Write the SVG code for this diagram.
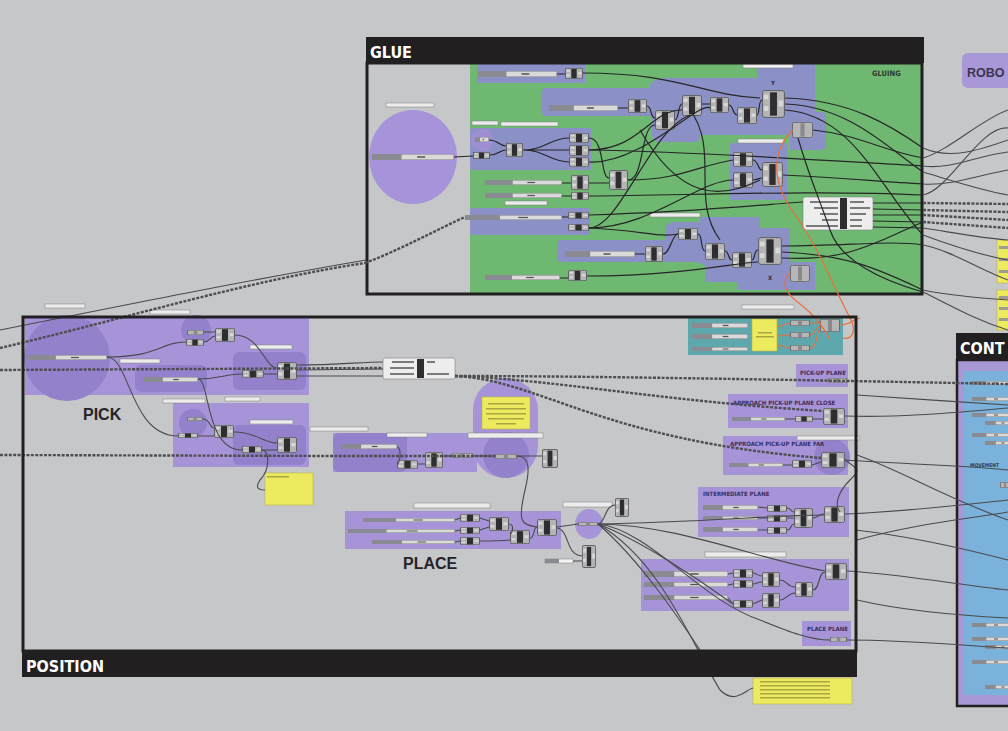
<svg xmlns="http://www.w3.org/2000/svg" width="1008" height="731" viewBox="0 0 1008 731">
<style>
.hdr{fill:#221f20}
.ht{font-family:"DejaVu Sans Condensed","Liberation Sans Narrow","Liberation Sans",sans-serif;font-weight:bold;fill:#ffffff;font-size:16px}
.frm{fill:none;stroke:#221f20;stroke-width:3}
.gb{fill:#8b90c7}
.lv{fill:#a794d8}
.lvd{fill:#9481cc}
.tl{fill:#5ea8ad}
.yl{fill:#eeea60;stroke:#b8b440;stroke-width:.6}
.lb{fill:#ececec;stroke:#7c7c7c;stroke-width:.5}
.w{fill:none;stroke:#262626;stroke-width:1.2}
.wg{fill:none;stroke:#4a4a4c;stroke-width:1.1}
.wd{fill:none;stroke:#4e4e50;stroke-width:2.4;stroke-dasharray:3 1.4}
.wo{fill:none;stroke:#ea6f3c;stroke-width:1.2}
.big{font-family:"Liberation Sans",Arial,sans-serif;font-weight:bold;fill:#262328;font-size:17px}
.gt{font-family:"Liberation Sans Narrow","DejaVu Sans Condensed","Liberation Sans",sans-serif;font-weight:bold;fill:#3a2f63;font-size:7px}
</style>
<defs>
<symbol id="cp" viewBox="0 0 20 24" preserveAspectRatio="none">
<rect x="0.5" y="0.5" width="19" height="23" rx="2" fill="#b4b4b6" stroke="#606062" stroke-width="1" vector-effect="non-scaling-stroke"/>
<rect x="7" y="2" width="6" height="20" fill="#2e2e30"/>
<rect x="1.5" y="4" width="4" height="4" fill="#d8d8d8"/>
<rect x="1.5" y="14" width="4" height="4" fill="#d8d8d8"/>
<rect x="14.5" y="9" width="4" height="5" fill="#d8d8d8"/>
</symbol>
<symbol id="cl" viewBox="0 0 20 24" preserveAspectRatio="none">
<rect x="0.5" y="0.5" width="19" height="23" rx="2" fill="#b6b6b8" stroke="#6a6a6c" stroke-width="1" vector-effect="non-scaling-stroke"/>
<rect x="8" y="2" width="4" height="20" fill="#8a8a8c"/>
</symbol>
<symbol id="sl" viewBox="0 0 100 8" preserveAspectRatio="none">
<rect x="0" y="0" width="100" height="8" fill="#dadada" stroke="#7a7a7a" stroke-width="1" vector-effect="non-scaling-stroke"/>
<rect x="0" y="0" width="36" height="8" fill="#8a8b92"/>
<rect x="55" y="3" width="10" height="2" fill="#555"/>
</symbol>
</defs>

<rect width="1008" height="731" fill="#c6c7c9"/>

<!-- ROBOT frame (partly outside view) -->
<g id="robot">
<rect x="962" y="53" width="60" height="35" rx="6" fill="#a898d8"/>
<text x="967" y="77" class="big" style="font-size:12.5px;fill:#3b3650">ROBO</text>
</g>

<!-- GLUE frame -->
<g id="glue">
<rect x="366" y="37" width="558" height="26" class="hdr"/>
<text x="370" y="58" class="ht">GLUE</text>
<rect x="470" y="64" width="452" height="230" fill="#6fb872"/>
<ellipse cx="413" cy="157" rx="44" ry="47" fill="#a793d9"/>
<rect x="386" y="103" width="48" height="4" class="lb"/>
<use href="#sl" x="372" y="154" width="82" height="6"/>

<!-- blue-violet groups -->
<rect x="477" y="64" width="108" height="19" class="gb"/>
<path class="gb" d="M542,92 Q542,88 546,88 L650,88 L650,84 Q655,78 665,78 L757,78 L757,66 Q757,63 762,63 L815,63 L815,112 L822,112 Q826,112 826,118 L826,145 Q826,150 820,150 L790,150 L790,135 L700,135 L700,138 Q700,142 694,142 L660,142 Q652,142 652,134 L652,116 L546,116 Q542,116 542,112 Z"/>
<rect x="470" y="128" width="121" height="42" rx="2" class="gb"/>
<rect x="470" y="208" width="120" height="27" rx="2" class="gb"/>
<path class="gb" d="M557,244 Q557,240 562,240 L665,240 L665,228 Q668,222 675,222 L700,222 L700,217 L760,217 L760,228 L790,228 L790,262 L815,262 L815,290 L738,290 L738,282 L705,282 L705,266 Q700,262 694,262 L562,262 Q557,262 557,258 Z"/>
<rect x="730" y="143" width="57" height="57" rx="2" class="gb"/>
<circle cx="482" cy="140" r="11" fill="#a08ed5"/>

<text x="872" y="76" class="gt" style="fill:#2d3a2d;font-size:7.5px">GLUING</text>
<text x="771" y="85" class="gt" style="font-size:6px;fill:#2d2d3a">Y</text>
<text x="768" y="280" class="gt" style="font-size:6px;fill:#2d2d3a">X</text>

<!-- labels -->
<rect x="743" y="64" width="50" height="4" class="lb"/>
<rect x="472" y="121" width="26" height="4" class="lb"/>
<rect x="501" y="122" width="57" height="4" class="lb"/>
<rect x="505" y="201" width="42" height="4" class="lb"/>
<rect x="650" y="213" width="50" height="4" class="lb"/>
<rect x="738" y="139" width="46" height="4" class="lb"/>

<!-- sliders -->
<use href="#sl" x="478" y="71" width="79" height="6"/>
<use href="#sl" x="549" y="105" width="69" height="6"/>
<use href="#sl" x="475" y="137" width="14" height="5"/>
<use href="#sl" x="485" y="180" width="77" height="5"/>
<use href="#sl" x="485" y="193" width="77" height="5"/>
<use href="#sl" x="465" y="215" width="97" height="5"/>
<use href="#sl" x="565" y="251" width="70" height="6"/>
<use href="#sl" x="485" y="275" width="75" height="5"/>

<!-- components -->
<use href="#cp" x="565" y="68" width="18" height="11"/>
<use href="#cp" x="628" y="99" width="19" height="14"/>
<use href="#cp" x="655" y="110" width="20" height="20"/>
<use href="#cp" x="682" y="95" width="20" height="21"/>
<use href="#cp" x="710" y="97" width="19" height="16"/>
<use href="#cp" x="737" y="107" width="20" height="17"/>
<use href="#cp" x="762" y="90" width="23" height="28"/>
<use href="#cl" x="792" y="122" width="21" height="16"/>
<use href="#cp" x="473" y="152" width="17" height="7"/>
<use href="#cp" x="506" y="143" width="17" height="14"/>
<use href="#cp" x="569" y="133" width="20" height="10"/>
<use href="#cp" x="569" y="145" width="20" height="11"/>
<use href="#cp" x="569" y="157" width="20" height="10"/>
<use href="#cp" x="571" y="175" width="18" height="15"/>
<use href="#cp" x="571" y="192" width="18" height="8"/>
<use href="#cp" x="609" y="170" width="19" height="20"/>
<use href="#cp" x="568" y="212" width="21" height="7"/>
<use href="#cp" x="568" y="224" width="21" height="7"/>
<use href="#cp" x="733" y="152" width="20" height="15"/>
<use href="#cp" x="733" y="172" width="20" height="16"/>
<use href="#cp" x="762" y="162" width="21" height="25"/>
<use href="#cp" x="645" y="246" width="18" height="16"/>
<use href="#cp" x="678" y="228" width="20" height="12"/>
<use href="#cp" x="705" y="243" width="20" height="17"/>
<use href="#cp" x="732" y="252" width="20" height="16"/>
<use href="#cp" x="758" y="237" width="24" height="28"/>
<use href="#cl" x="790" y="265" width="20" height="17"/>
<use href="#cp" x="568" y="270" width="19" height="11"/>
<!-- parameter panel -->
<g>
<rect x="803" y="197" width="70" height="33" rx="2" fill="#ededed" stroke="#808080" stroke-width=".6"/>
<rect x="840" y="198" width="7" height="31" fill="#2e2e30"/>
<rect x="810" y="201" width="28" height="2" fill="#7a7a7a"/>
<rect x="814" y="207" width="24" height="2" fill="#7a7a7a"/>
<rect x="820" y="213" width="18" height="2" fill="#7a7a7a"/>
<rect x="822" y="219" width="16" height="2" fill="#7a7a7a"/>
<rect x="806" y="225" width="32" height="2" fill="#7a7a7a"/>
<rect x="850" y="201" width="14" height="2" fill="#7a7a7a"/>
<rect x="850" y="207" width="20" height="2" fill="#7a7a7a"/>
<rect x="850" y="213" width="16" height="2" fill="#7a7a7a"/>
<rect x="850" y="219" width="12" height="2" fill="#7a7a7a"/>
<rect x="850" y="225" width="12" height="2" fill="#7a7a7a"/>
</g>
<rect x="367" y="63" width="555" height="231" class="frm"/>
</g>

<!-- POSITION frame -->
<g id="position">
<!-- PICK groups -->
<rect x="25" y="318" width="284" height="77" class="lv"/>
<circle cx="67" cy="358" r="43" class="lvd"/>
<rect x="135" y="365" width="72" height="27" rx="6" class="lvd"/>
<rect x="233" y="352" width="73" height="38" rx="6" class="lvd"/>
<circle cx="196" cy="330" r="15" class="lvd"/>
<rect x="173" y="403" width="136" height="64" class="lv"/>
<rect x="233" y="425" width="73" height="40" rx="6" class="lvd"/>
<circle cx="193" cy="423" r="14" class="lvd"/>
<text x="83" y="420" class="big" style="font-size:16px">PICK</text>
<rect x="120" y="359" width="40" height="4" class="lb"/>
<rect x="250" y="345" width="42" height="4" class="lb"/>
<rect x="163" y="399" width="42" height="4" class="lb"/>
<rect x="225" y="397" width="35" height="4" class="lb"/>
<rect x="250" y="420" width="43" height="4" class="lb"/>
<rect x="310" y="427" width="58" height="4" class="lb"/>
<rect x="45" y="304" width="40" height="4" class="lb"/>
<rect x="150" y="310" width="40" height="4" class="lb"/>
<use href="#sl" x="27" y="355" width="80" height="5"/>
<use href="#sl" x="143" y="377" width="55" height="5"/>
<use href="#cl" x="187" y="330" width="17" height="5"/>
<use href="#cp" x="186" y="339" width="18" height="7"/>
<use href="#cp" x="215" y="328" width="20" height="14"/>
<use href="#cp" x="242" y="370" width="22" height="8"/>
<use href="#cp" x="277" y="362" width="20" height="18"/>
<use href="#cl" x="187" y="417" width="16" height="4"/>
<use href="#cp" x="178" y="433" width="20" height="5"/>
<use href="#cp" x="214" y="425" width="20" height="13"/>
<use href="#cp" x="242" y="446" width="20" height="7"/>
<use href="#cp" x="277" y="437" width="20" height="16"/>
<rect x="265" y="473" width="48" height="32" class="yl"/>
<rect x="267" y="476" width="22" height="1.5" fill="#a8a640"/>

<!-- deconstruct panel -->
<g>
<rect x="383" y="358" width="72" height="21" rx="2" fill="#ededed" stroke="#808080" stroke-width=".6"/>
<rect x="417" y="359" width="7" height="19" fill="#2e2e30"/>
<rect x="392" y="361" width="22" height="2" fill="#7a7a7a"/>
<rect x="390" y="367" width="24" height="2" fill="#7a7a7a"/>
<rect x="390" y="373" width="24" height="2" fill="#7a7a7a"/>
<rect x="427" y="361" width="8" height="2" fill="#7a7a7a"/>
<rect x="427" y="373" width="22" height="2" fill="#7a7a7a"/>
</g>

<!-- PLACE groups -->
<rect x="333" y="433" width="144" height="39" class="lv"/>
<rect x="333" y="433" width="74" height="39" rx="6" class="lvd"/>
<rect x="387" y="433" width="40" height="4" class="lb"/>
<use href="#sl" x="341" y="444" width="56" height="5"/>
<use href="#cp" x="397" y="460" width="21" height="9"/>
<use href="#cp" x="425" y="452" width="18" height="16"/>
<use href="#cl" x="452" y="453" width="21" height="5"/>
<rect x="473" y="378" width="65" height="100" rx="32" class="lv"/>
<circle cx="506" cy="455" r="23" class="lvd"/>
<rect x="482" y="397" width="48" height="32" class="yl"/>
<rect x="488" y="403" width="36" height="1.5" fill="#a8a640"/>
<rect x="486" y="408" width="40" height="1.5" fill="#a8a640"/>
<rect x="486" y="413" width="40" height="1.5" fill="#a8a640"/>
<rect x="488" y="418" width="36" height="1.5" fill="#a8a640"/>
<rect x="496" y="423" width="20" height="1.5" fill="#a8a640"/>
<rect x="468" y="433" width="75" height="5" class="lb"/>
<use href="#cl" x="495" y="454" width="22" height="5"/>
<use href="#cp" x="542" y="449" width="16" height="19"/>

<rect x="345" y="511" width="216" height="38" class="lv"/>
<rect x="414" y="503" width="76" height="5" class="lb"/>
<use href="#sl" x="363" y="518" width="92" height="4"/>
<use href="#sl" x="348" y="529" width="107" height="4"/>
<use href="#sl" x="372" y="540" width="83" height="4"/>
<use href="#cp" x="460" y="514" width="20" height="8"/>
<use href="#cp" x="460" y="527" width="20" height="7"/>
<use href="#cp" x="460" y="537" width="20" height="8"/>
<use href="#cp" x="489" y="517" width="20" height="14"/>
<use href="#cp" x="510" y="530" width="20" height="14"/>
<use href="#cp" x="537" y="519" width="20" height="17"/>
<text x="403" y="569" class="big" style="font-size:16px">PLACE</text>
<ellipse cx="589" cy="524" rx="14" ry="15" class="lv"/>
<use href="#cl" x="578" y="522" width="20" height="4"/>
<rect x="563" y="502" width="49" height="5" class="lb"/>
<use href="#cp" x="615" y="498" width="14" height="19"/>
<use href="#cp" x="582" y="545" width="14" height="23"/>
<rect x="545" y="559" width="28" height="4" fill="#f4f4f4" stroke="#7a7a7a" stroke-width=".5"/>
<rect x="545" y="559" width="14" height="4" fill="#8a8b92"/>

<!-- teal group -->
<rect x="688" y="317" width="155" height="38" class="tl"/>
<rect x="742" y="305" width="52" height="4" class="lb"/>
<use href="#sl" x="692" y="323" width="56" height="5"/>
<use href="#sl" x="692" y="334" width="56" height="5"/>
<use href="#sl" x="692" y="347" width="56" height="4"/>
<rect x="752" y="319" width="25" height="32" class="yl"/>
<rect x="758" y="332" width="14" height="1.5" fill="#a8a640"/>
<rect x="756" y="336" width="18" height="1.5" fill="#a8a640"/>
<use href="#cl" x="790" y="320" width="20" height="6"/>
<use href="#cl" x="790" y="332" width="20" height="6"/>
<use href="#cl" x="790" y="345" width="20" height="6"/>
<use href="#cl" x="820" y="319" width="20" height="13"/>

<!-- plane groups -->
<rect x="796" y="364" width="52" height="23" class="lv"/>
<text x="800" y="375" class="gt" style="font-size:6px">PICK-UP PLANE</text>
<use href="#cl" x="828" y="378" width="19" height="5"/>
<rect x="728" y="394" width="120" height="34" class="lv"/>
<text x="733" y="405" class="gt" style="font-size:6px">APPROACH PICK-UP PLANE CLOSE</text>
<use href="#sl" x="732" y="417" width="53" height="4"/>
<use href="#cp" x="795" y="416" width="18" height="6"/>
<use href="#cp" x="823" y="408" width="22" height="17"/>
<rect x="723" y="436" width="125" height="39" class="lv"/>
<circle cx="832" cy="457" r="18" class="lvd"/>
<text x="730" y="446" class="gt" style="font-size:6px">APPROACH PICK-UP PLANE FAR</text>
<rect x="797" y="436" width="62" height="4" class="lb"/>
<use href="#sl" x="729" y="463" width="54" height="4"/>
<use href="#cp" x="792" y="460" width="20" height="8"/>
<use href="#cp" x="821" y="452" width="24" height="16"/>
<rect x="698" y="487" width="151" height="50" class="lv"/>
<text x="703" y="496" class="gt" style="font-size:6px">INTERMEDIATE PLANE</text>
<use href="#sl" x="703" y="505" width="55" height="5"/>
<use href="#sl" x="703" y="516" width="55" height="4"/>
<use href="#sl" x="703" y="527" width="55" height="5"/>
<use href="#cp" x="767" y="505" width="20" height="7"/>
<use href="#cp" x="767" y="515" width="20" height="7"/>
<use href="#cp" x="767" y="527" width="20" height="7"/>
<use href="#cp" x="794" y="508" width="19" height="20"/>
<use href="#cp" x="824" y="506" width="21" height="17"/>
<rect x="641" y="559" width="208" height="52" class="lv"/>
<rect x="705" y="552" width="81" height="5" class="lb"/>
<use href="#sl" x="644" y="571" width="84" height="6"/>
<use href="#sl" x="644" y="582" width="84" height="5"/>
<use href="#sl" x="644" y="595" width="84" height="5"/>
<use href="#cp" x="733" y="569" width="20" height="9"/>
<use href="#cp" x="733" y="580" width="20" height="8"/>
<use href="#cp" x="733" y="600" width="20" height="8"/>
<use href="#cp" x="762" y="572" width="18" height="15"/>
<use href="#cp" x="762" y="593" width="18" height="15"/>
<use href="#cp" x="795" y="582" width="18" height="15"/>
<use href="#cp" x="825" y="563" width="22" height="17"/>
<rect x="802" y="621" width="49" height="25" class="lv"/>
<text x="807" y="631" class="gt" style="font-size:6px">PLACE PLANE</text>
<use href="#cl" x="830" y="637" width="17" height="5"/>
</g>

<!-- CONTROL frame (partly outside view) -->
<g id="control">
<rect x="956" y="333" width="60" height="27" class="hdr"/>
<text x="960" y="354" class="ht">CONT</text>
<rect x="957" y="360" width="60" height="346" fill="#a898d6" stroke="#221f20" stroke-width="2.5"/>
<rect x="964" y="371" width="50" height="324" fill="#7ab2dc"/>
<use href="#sl" x="972" y="381" width="40" height="4"/>
<use href="#sl" x="972" y="397" width="40" height="4"/>
<use href="#sl" x="972" y="413" width="40" height="4"/>
<use href="#sl" x="985" y="421" width="30" height="4"/>
<use href="#sl" x="972" y="433" width="40" height="4"/>
<use href="#sl" x="985" y="441" width="30" height="4"/>
<text x="970" y="467" class="gt" style="font-size:5px;fill:#2f3a5a">MOVEMENT</text>
<use href="#cl" x="1000" y="482" width="10" height="6"/>
<use href="#sl" x="972" y="623" width="40" height="4"/>
<use href="#sl" x="972" y="637" width="40" height="4"/>
<use href="#sl" x="985" y="645" width="30" height="4"/>
<use href="#sl" x="972" y="660" width="40" height="4"/>
<use href="#sl" x="985" y="685" width="30" height="4"/>
</g>

<!-- output panels -->
<g id="panels">
<rect x="997" y="240" width="16" height="43" class="yl"/>
<rect x="999" y="246" width="10" height="3" fill="#9c9c90"/>
<rect x="999" y="258" width="10" height="3" fill="#9c9c90"/>
<rect x="999" y="270" width="10" height="3" fill="#9c9c90"/>
<rect x="997" y="290" width="16" height="40" class="yl"/>
<rect x="999" y="296" width="10" height="3" fill="#9c9c90"/>
<rect x="999" y="307" width="10" height="3" fill="#9c9c90"/>
<rect x="999" y="318" width="10" height="3" fill="#9c9c90"/>
<rect x="753" y="678" width="99" height="26" class="yl"/>
<rect x="760" y="681" width="70" height="1.5" fill="#a8a640"/>
<rect x="760" y="685" width="70" height="1.5" fill="#a8a640"/>
<rect x="760" y="689" width="70" height="1.5" fill="#a8a640"/>
<rect x="760" y="693" width="70" height="1.5" fill="#a8a640"/>
<rect x="760" y="697" width="70" height="1.5" fill="#a8a640"/>
</g>

<!-- connectors -->
<g id="connectors">
<!-- glue internal wires -->
<path class="w" d="M583,73 C680,73 700,95 760,98"/>
<path class="w" d="M557,74 L565,74 M618,108 L628,108 M647,106 C652,106 650,118 655,118 M675,120 C679,120 678,104 682,104 M702,104 L710,104 M729,105 C733,105 733,115 737,115 M757,115 C760,115 758,100 762,100"/>
<path class="w" d="M785,98 C850,100 890,125 923,148"/>
<path class="w" d="M785,104 C850,106 890,150 923,172"/>
<path class="w" d="M785,110 C855,115 880,190 923,235"/>
<path class="w" d="M813,130 C860,135 880,150 923,158"/>
<path class="w" d="M454,157 L473,156 M490,155 C498,155 500,150 506,150 M489,140 C498,140 500,146 506,146"/>
<path class="w" d="M523,150 C545,150 550,138 569,138 M523,150 L569,150 M523,150 C545,150 550,162 569,162"/>
<path class="w" d="M589,138 C605,138 600,178 609,178"/>
<path class="w" d="M589,150 C640,150 650,110 682,110"/>
<path class="w" d="M589,150 C700,152 820,160 923,166"/>
<path class="w" d="M589,162 C640,165 700,100 710,108"/>
<path class="w" d="M562,183 L571,183 M589,183 L609,183"/>
<path class="w" d="M562,196 L571,196 M589,196 C700,195 820,190 923,195"/>
<path class="w" d="M628,180 C645,180 640,125 655,125"/>
<path class="w" d="M628,180 C680,180 700,165 733,160"/>
<path class="w" d="M589,228 C650,228 700,180 733,180"/>
<path class="w" d="M589,228 C640,230 660,238 678,234"/>
<path class="w" d="M589,228 C620,228 650,130 690,115"/>
<path class="w" d="M562,217 L568,217 M589,215 C700,212 780,203 803,202"/>
<path class="w" d="M635,254 L645,254 M663,254 C670,254 672,234 678,234 M698,234 C703,234 700,251 705,251 M725,251 C729,251 728,260 732,260 M752,260 C755,260 754,250 758,250"/>
<path class="w" d="M782,246 C850,246 890,240 923,245"/>
<path class="w" d="M782,252 C850,255 880,270 923,290"/>
<path class="w" d="M782,258 C850,262 880,240 923,222"/>
<path class="w" d="M560,278 L568,278 M587,276 C680,276 740,262 758,262"/>
<path class="w" d="M753,160 C758,160 758,170 762,170 M753,180 C758,180 758,178 762,178"/>
<path class="w" d="M783,175 C850,178 880,182 923,184"/>
<path class="w" d="M690,110 C720,150 690,200 720,240"/>
<path class="w" d="M640,130 C680,200 720,200 760,180"/>
<path class="w" d="M873,203 L923,203 M873,209 L923,210 M873,215 L923,215 M873,221 L923,222 M873,227 L923,228"/>
<path class="w" d="M798,138 C810,180 820,200 830,230 C840,260 880,280 923,292"/>
<!-- wires leaving glue to the right -->
<path class="wg" d="M923,148 C950,160 980,150 1008,140"/>
<path class="wg" d="M923,166 C950,170 980,155 1008,152"/>
<path class="wg" d="M923,172 C950,180 980,190 1008,195"/>
<path class="wg" d="M923,158 C950,150 980,120 1008,110"/>
<path class="wg" d="M923,184 C950,186 980,175 1008,170"/>
<path class="wd" d="M923,203 L1008,204 M923,210 L1008,212 M923,215 L1008,220 M923,222 L1008,228"/>
<path class="wg" d="M923,195 C950,190 980,125 1008,128"/>
<path class="wg" d="M923,235 C950,245 980,255 1008,260"/>
<path class="wg" d="M923,245 C950,250 980,270 1008,280"/>
<path class="wg" d="M923,228 C950,232 980,238 1008,240"/>
<path class="wg" d="M923,292 C950,305 975,320 1008,330"/>
<path class="wg" d="M923,290 C950,296 980,298 1008,300"/>
<!-- orange wires -->
<path class="wo" d="M793,130 C772,150 770,180 795,215 C820,250 835,290 850,318 C858,333 850,340 843,338"/>
<path class="wo" d="M790,273 C780,282 786,292 795,300 C808,310 820,320 830,340"/>
<path class="wo" d="M777,327 L790,323 M777,336 L790,335 M777,345 L790,348 M810,323 L820,323 M810,335 C815,335 815,327 820,327 M810,348 C818,348 816,330 820,330 M840,325 C850,325 852,320 860,318"/>
<!-- long dashed and grey wires on the canvas -->
<path class="wd" d="M0,348 C120,320 250,280 365,263"/>
<path class="wd" d="M365,263 C400,250 440,228 465,217"/>
<path class="wg" d="M0,330 C150,300 250,280 366,260"/>
<path class="wd" d="M0,370 L383,368"/>
<path class="wd" d="M0,455 L333,456 L495,456"/>
<path class="wg" d="M107,357 C160,357 160,342 186,342 M204,342 C210,342 210,336 215,336 M204,332 L215,332"/>
<path class="wg" d="M235,335 C260,335 265,368 277,368"/>
<path class="wg" d="M198,379 C220,379 225,374 242,374 M264,374 L277,374"/>
<path class="wg" d="M297,365 C340,365 360,362 383,362 M297,370 L383,369 M297,376 C340,376 360,376 383,376"/>
<path class="wg" d="M107,357 C130,357 130,436 178,436 M198,436 L214,436 M203,419 C210,419 210,428 214,428"/>
<path class="wg" d="M198,379 C210,379 205,450 242,450 M234,432 C255,432 265,443 277,443 M262,450 L277,450"/>
<path class="wg" d="M262,450 C270,450 270,470 260,480 C255,488 258,490 265,490"/>
<path class="wd" d="M455,376 C560,376 700,378 1008,384"/>
<path class="wd" d="M455,376 C560,380 650,400 823,411"/>
<path class="wd" d="M455,376 C540,380 600,440 821,458"/>
<path class="wg" d="M397,447 C402,447 400,464 397,464 M418,464 L425,464 M443,456 L452,456 M473,456 L495,456 M517,456 L542,456"/>
<path class="wg" d="M517,456 C530,456 530,470 525,490 C518,520 520,525 537,527"/>
<path class="wg" d="M455,520 L460,518 M455,531 L460,530 M455,542 L460,541 M480,518 L489,521 M480,530 L489,527 M480,541 C500,541 500,541 510,540 M509,524 C515,524 512,534 510,534 M530,538 C535,538 533,527 537,527"/>
<path class="wg" d="M557,527 L578,524"/>
<path class="wg" d="M557,528 C570,530 565,555 582,556 M573,561 L582,561"/>
<path class="wg" d="M598,524 C605,524 605,505 615,505"/>
<path class="wg" d="M598,524 C700,522 780,515 824,515"/>
<path class="wg" d="M598,524 C680,525 760,560 825,571"/>
<path class="wg" d="M598,524 C650,530 700,600 760,620 C790,632 810,640 830,640"/>
<path class="wg" d="M598,524 C640,540 700,580 733,604"/>
<path class="wg" d="M598,524 C640,560 680,620 700,650"/>
<path class="wg" d="M598,524 C660,560 690,640 720,690 C735,705 745,690 753,688"/>
<path class="wg" d="M758,507 L767,508 M758,518 L767,518 M758,530 L767,530 M787,508 C792,508 790,512 794,512 M787,518 L794,518 M787,530 C792,530 790,524 794,524 M813,518 C818,518 818,514 824,514"/>
<path class="wg" d="M728,574 L733,573 M728,585 L733,584 M728,598 L733,604 M753,573 C757,573 757,576 762,576 M753,584 C757,584 757,582 762,582 M753,604 L762,600 M780,580 C787,580 787,587 795,587 M780,600 C787,600 787,593 795,593 M813,590 C820,590 818,572 825,572"/>
<path class="wg" d="M785,419 L795,419 M813,419 L823,419 M783,465 L792,465 M812,465 L821,462"/>
<path class="wg" d="M845,460 C860,470 860,470 850,480 C838,492 834,505 840,512"/>
<!-- wires leaving position frame to the right -->
<path class="wg" d="M845,416 C900,418 960,412 1008,408"/>
<path class="wg" d="M845,460 C900,464 960,465 1008,470"/>
<path class="wg" d="M845,514 C900,512 960,505 1008,500"/>
<path class="wg" d="M847,571 C900,574 960,585 1008,590"/>
<path class="wg" d="M847,640 C900,640 960,645 1008,648"/>
<path class="wg" d="M855,530 C900,535 950,545 1008,560"/>
<path class="wg" d="M857,455 C900,470 950,500 1008,520"/>
<path class="wg" d="M857,600 C900,610 950,615 1008,618"/>
<path class="wg" d="M857,395 C900,398 960,402 1008,405"/>
<path class="wg" d="M857,540 C910,525 960,520 1008,512"/>
</g>

<!-- position frame outline and title bar -->
<g id="position-frame">
<rect x="23" y="317" width="833" height="334" class="frm"/>
<rect x="22" y="650" width="835" height="27" class="hdr"/>
<text x="26" y="672" class="ht">POSITION</text>
</g>
</svg>
